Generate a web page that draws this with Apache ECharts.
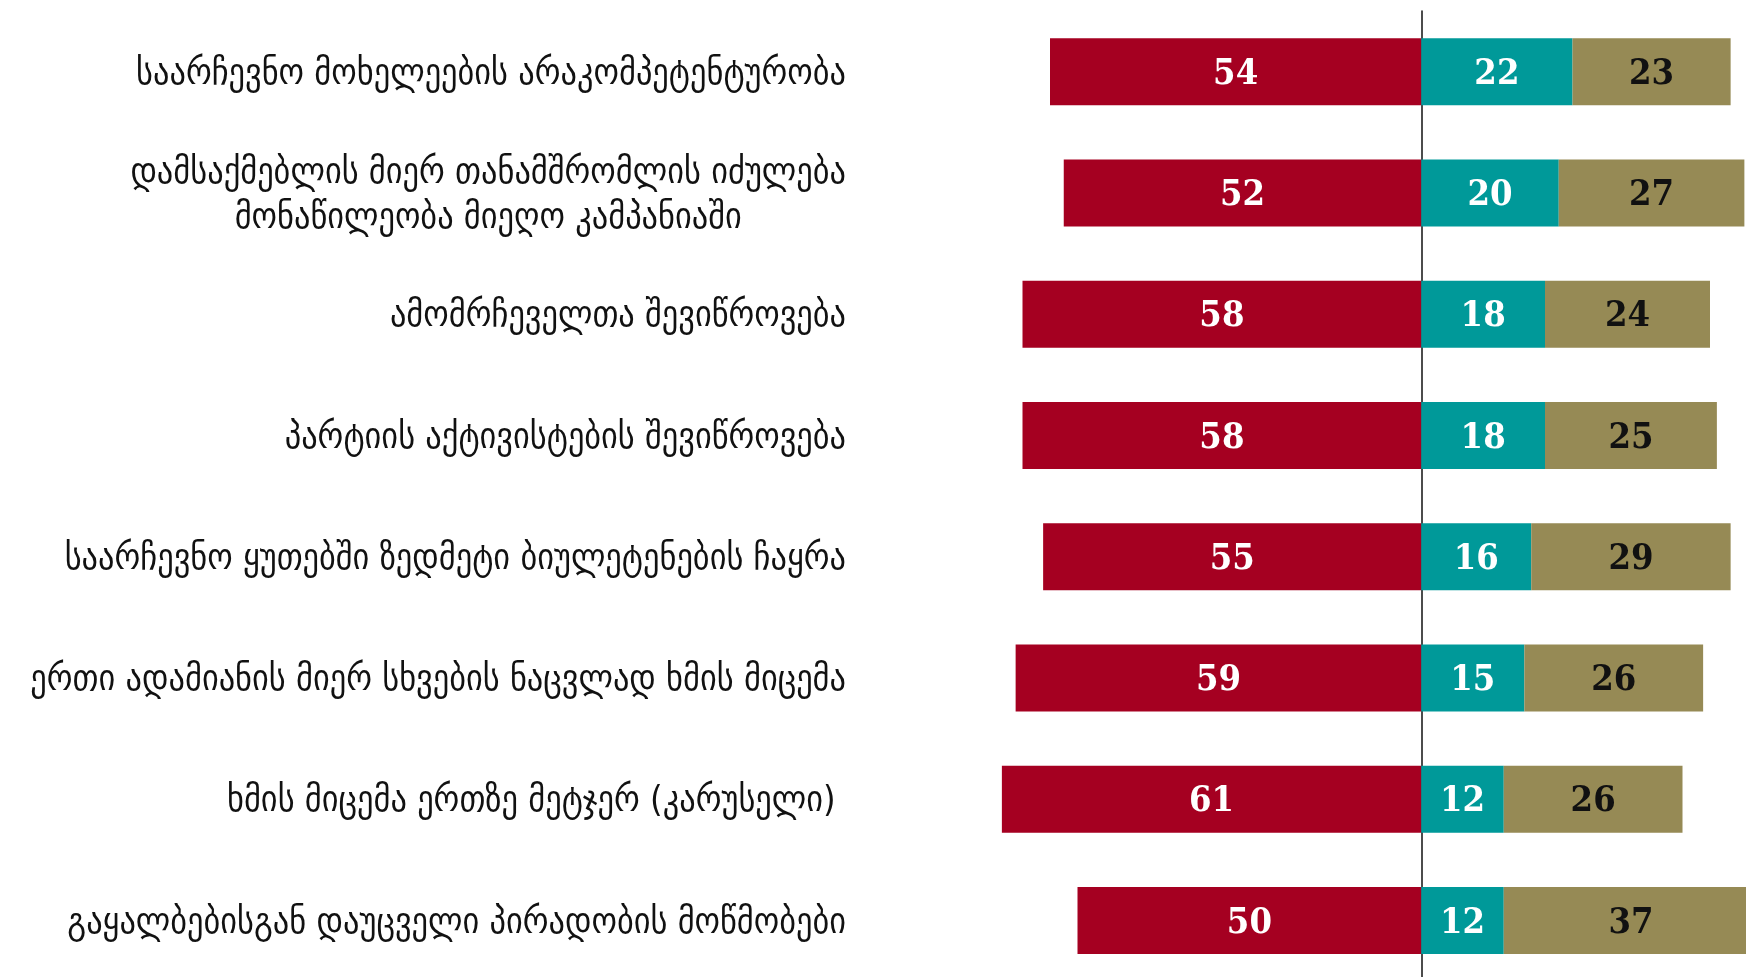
<!DOCTYPE html>
<html>
<head>
<meta charset="utf-8">
<script src="https://cdn.jsdelivr.net/npm/echarts@6/dist/echarts.min.js"></script>
<style>
    html, body { margin: 0; padding: 0; background: #fff; }
    #chart { width: 1746px; height: 977px; }
</style>
</head>
<body>
<div id="chart"></div>
<script>
// კატეგორიები (ზემოდან ქვემოთ)
var categories = [
    "საარჩევნო მოხელეების არაკომპეტენტურობა",
    "დამსაქმებლის მიერ თანამშრომლის იძულება\nმონაწილეობა მიეღო კამპანიაში",
    "ამომრჩეველთა შევიწროვება",
    "პარტიის აქტივისტების შევიწროვება",
    "საარჩევნო ყუთებში ზედმეტი ბიულეტენების ჩაყრა",
    "ერთი ადამიანის მიერ სხვების ნაცვლად ხმის მიცემა",
    "ხმის მიცემა ერთზე მეტჯერ (კარუსელი) ",
    "გაყალბებისგან დაუცველი პირადობის მოწმობები"
];
var redValues = [54, 52, 58, 58, 55, 59, 61, 50];
var tealValues = [22, 20, 18, 18, 16, 15, 12, 12];
var oliveValues = [23, 27, 24, 25, 29, 26, 26, 37];

var chart = echarts.init(document.getElementById("chart"));

var labelFont = "'DejaVu Sans Condensed', 'DejaVu Sans', sans-serif";
var numFont = "'DejaVu Serif Condensed', 'DejaVu Serif', serif";

function barLabel(color) {
    return {
        show: true,
        position: "inside",
        offset: [0, 3],
        color: color,
        fontFamily: numFont,
        fontWeight: "bold",
        fontSize: 36,
        formatter: function (p) { return Math.abs(p.value); }
    };
}

var option = {
    animation: false,
    grid: { left: 940, width: 825, top: 11, height: 970, outerBoundsMode: "none", containLabel: false },
    xAxis: {
        type: "value",
        min: -70,
        max: 50,
        show: false
    },
    yAxis: {
        type: "category",
        inverse: true,
        data: categories,
        axisLine: { show: true, onZero: true, lineStyle: { color: "#111", width: 1.5 } },
        axisTick: { show: false },
        axisLabel: {
            // labels sit relative to the grid's left edge, not the zero line
            margin: 94,
            align: "right",
            formatter: function (v) {
                return v.split("\n").map(function (s) { return "{c|" + s + "}"; }).join("\n");
            },
            rich: {
                c: {
                    align: "center",
                    fontFamily: labelFont,
                    fontSize: 36,
                    lineHeight: 45,
                    padding: [6, 0, 0, 0],
                    color: "#111"
                }
            }
        }
    },
    series: [
        {
            name: "red",
            type: "bar",
            stack: "total",
            barWidth: 67,
            itemStyle: { color: "#A50021" },
            label: barLabel("#fff"),
            data: redValues.map(function (v) { return -v; })
        },
        {
            name: "teal",
            type: "bar",
            stack: "total",
            barWidth: 67,
            itemStyle: { color: "#009999" },
            label: barLabel("#fff"),
            data: tealValues
        },
        {
            name: "olive",
            type: "bar",
            stack: "total",
            barWidth: 67,
            itemStyle: { color: "#968A55" },
            label: barLabel("#111"),
            data: oliveValues
        }
    ]
};
chart.setOption(option);
</script>
</body>
</html>
